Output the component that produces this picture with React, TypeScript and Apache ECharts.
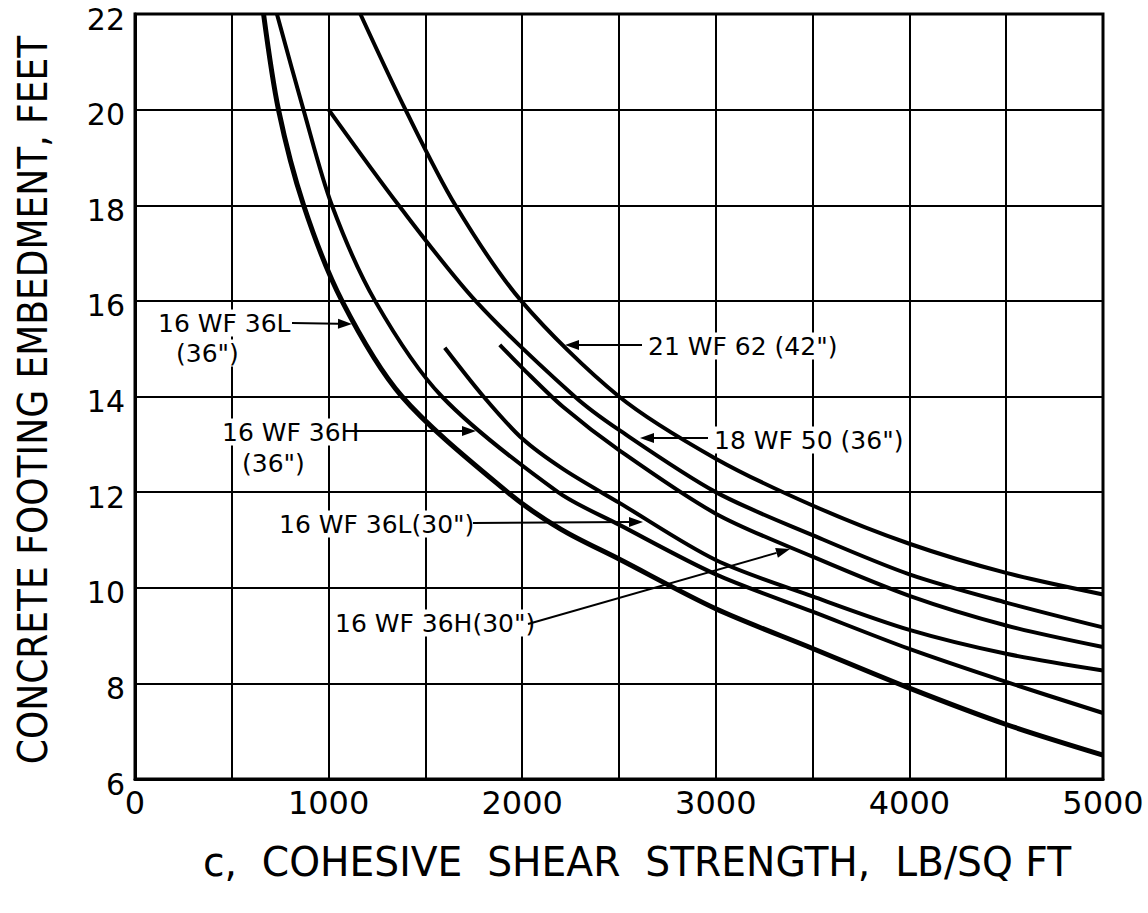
import React, { useEffect, useRef } from "react";
import * as echarts from "echarts";

// c (lb/sq ft) vs concrete footing embedment (ft)
const s16WF36L_36 = [[664, 22], [741, 20], [871, 18], [1069, 16], [1379, 14], [1924, 12], [2201, 11.22], [2500, 10.6], [3000, 9.56], [3500, 8.73], [4000, 7.9], [4500, 7.14], [5000, 6.5]];
const s16WF36H_36 = [[733, 22], [870, 20], [1017, 18], [1240, 16], [1585, 14], [2185, 12], [2500, 11.32], [3000, 10.28], [3500, 9.5], [4000, 8.72], [4500, 8.03], [5000, 7.38]];
const s18WF50_36 = [[1000, 20], [1362, 18], [1759, 16], [2271, 14], [2500, 13.3], [3000, 12.0], [3500, 11.1], [4000, 10.28], [4500, 9.69], [5000, 9.17]];
const s21WF62_42 = [[1164, 22], [1397, 20], [1655, 18], [1995, 16], [2500, 14.0], [3000, 12.7], [3500, 11.72], [4000, 10.92], [4500, 10.31], [5000, 9.86]];
const s16WF36H_30 = [[1884, 15.08], [2000, 14.6], [2212, 13.78], [2500, 12.88], [3000, 11.55], [3500, 10.65], [4000, 9.83], [4500, 9.21], [5000, 8.76]];
const s16WF36L_30 = [[1600, 15.02], [1800, 14.0], [2000, 13.12], [2212, 12.48], [2500, 11.78], [3000, 10.58], [3500, 9.82], [4000, 9.12], [4500, 8.62], [5000, 8.27]];

const xTickLabels = ["0", "1000", "2000", "3000", "4000", "5000"];
const yTickLabels = ["6", "8", "10", "12", "14", "16", "18", "20", "22"];

const FONT = '"DejaVu Sans", sans-serif';

function label(text: string, x: number, y: number, size = 25) {
  return {
    type: "text",
    x,
    y,
    z: 10,
    style: {
      text,
      font: `${size}px ${FONT}`,
      fill: "#000",
      verticalAlign: "middle",
      align: "left",
      backgroundColor: "#fff",
      padding: [1, 2, 1, 2],
    },
  };
}

function arrow(x1: number, y1: number, x2: number, y2: number) {
  const ang = Math.atan2(y2 - y1, x2 - x1);
  const L = 14;
  const W = 5;
  const bx = x2 - L * Math.cos(ang);
  const by = y2 - L * Math.sin(ang);
  const px = -Math.sin(ang) * W;
  const py = Math.cos(ang) * W;
  return [
    { type: "line", z: 11, shape: { x1, y1, x2: bx, y2: by }, style: { stroke: "#000", lineWidth: 2 } },
    {
      type: "polygon",
      z: 11,
      shape: { points: [[x2, y2], [bx + px, by + py], [bx - px, by - py]] },
      style: { fill: "#000" },
    },
  ];
}

export default function App() {
  const ref = useRef<HTMLDivElement>(null);
  useEffect(() => {
    if (!ref.current) return;
    const chart = echarts.init(ref.current, null, { renderer: "svg" });
    const mk = (name: string, data: number[][], w: number) => ({
      name,
      type: "line",
      data,
      symbol: "none",
      smooth: 0.3,
      lineStyle: { color: "#000", width: w },
      z: 5,
    });
    chart.setOption({
      animation: false,
      backgroundColor: "#fff",
      grid: { left: 135, right: 45, top: 14, bottom: 134, show: true, borderColor: "#000", borderWidth: 3, backgroundColor: "transparent" },
      xAxis: {
        type: "value",
        min: 0,
        max: 5000,
        interval: 500,
        axisLine: { show: true, lineStyle: { color: "#000", width: 3 } },
        axisTick: { show: false },
        splitLine: { show: true, lineStyle: { color: "#000", width: 2 } },
        axisLabel: {
          margin: 8,
          color: "#000",
          fontFamily: FONT,
          fontSize: 32,
          formatter: (v: number) => (v % 1000 === 0 ? xTickLabels[v / 1000] : ""),
        },
      },
      yAxis: {
        type: "value",
        min: 6,
        max: 22,
        interval: 2,
        axisLine: { show: true, lineStyle: { color: "#000", width: 3 } },
        axisTick: { show: false },
        splitLine: { show: true, lineStyle: { color: "#000", width: 2 } },
        axisLabel: {
          margin: 10,
          formatter: (v: number) => `{t|${yTickLabels[(v - 6) / 2]}}`,
          rich: {
            t: { color: "#000", fontFamily: FONT, fontSize: 30, padding: [10, 0, 0, 0] },
          },
        },
      },
      series: [
        mk("16 WF 36L (36\")", s16WF36L_36, 5),
        mk("16 WF 36H (36\")", s16WF36H_36, 4),
        mk("18 WF 50 (36\")", s18WF50_36, 4),
        mk("21 WF 62 (42\")", s21WF62_42, 4),
        mk("16 WF 36H (30\")", s16WF36H_30, 4),
        mk("16 WF 36L (30\")", s16WF36L_30, 4),
      ],
      graphic: [
        {
          type: "text",
          x: 33,
          y: 400,
          rotation: Math.PI / 2,
          scaleX: 0.9,
          style: { text: "CONCRETE FOOTING EMBEDMENT, FEET", font: `40px ${FONT}`, fill: "#000", align: "center", verticalAlign: "middle" },
        },
        {
          type: "text",
          x: 637,
          y: 862,
          scaleX: 0.98,
          style: { text: "c,  COHESIVE  SHEAR  STRENGTH,  LB/SQ FT", font: `40px ${FONT}`, fill: "#000", align: "center", verticalAlign: "middle" },
        },
        label("16 WF 36L", 156, 323),
        label('(36")', 174, 353),
        ...arrow(292, 323, 352, 324),
        label("16 WF 36H", 220, 432),
        label('(36")', 240, 463),
        ...arrow(347, 431, 476, 431),
        label('16 WF 36L(30")', 277, 524),
        ...arrow(473, 523, 643, 522),
        label('16 WF 36H(30")', 333, 623),
        ...arrow(528, 624, 790, 549),
        label('21 WF 62 (42")', 646, 346),
        ...arrow(642, 345, 565, 345),
        label('18 WF 50 (36")', 712, 440),
        ...arrow(708, 438, 640, 438),
      ],
    });
    return () => chart.dispose();
  }, []);
  return <div ref={ref} style={{ position: "fixed", left: 0, top: 0, width: 1148, height: 913 }} />;
}
